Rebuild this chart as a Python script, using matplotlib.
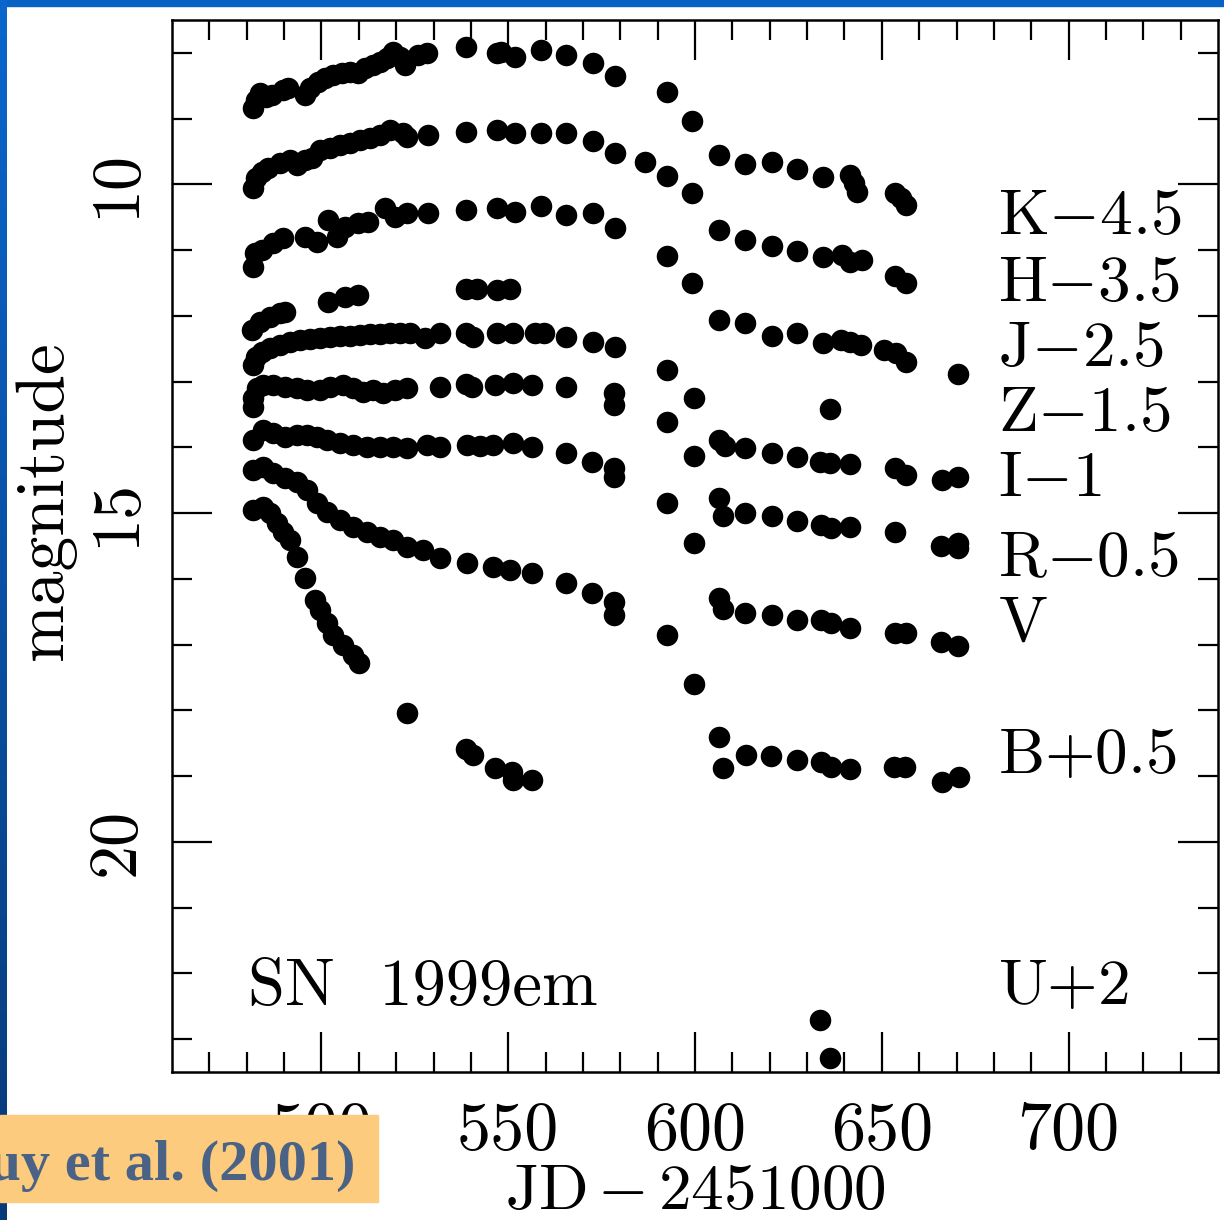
import numpy as np
import matplotlib
matplotlib.use("Agg")
import matplotlib.pyplot as plt
from matplotlib.patches import Rectangle

plt.rcParams["font.family"] = "serif"
plt.rcParams["font.serif"] = ["cmr10", "DejaVu Serif"]
plt.rcParams["mathtext.fontset"] = "cm"
plt.rcParams["axes.unicode_minus"] = False

# light curves of SN 1999em (JD-2451000, shifted magnitudes)
k_jd = [481.7, 482.5, 483.5, 485.1, 486.7, 489.7, 491.0, 495.6, 496.9, 499.0, 500.9, 503.0,
        505.5, 507.6, 509.7, 511.6, 513.7, 515.6, 517.5, 519.1, 521.0, 522.3, 525.8, 528.2,
        538.6, 546.9, 548.2, 551.7, 558.7, 565.6, 572.6, 578.7, 592.6, 599.3, 606.5, 613.5,
        620.7, 627.4, 634.3, 641.6, 642.6, 643.4, 653.6, 655.2, 656.5]
k_mag = [8.84, 8.72, 8.61, 8.67, 8.64, 8.56, 8.53, 8.64, 8.53, 8.44, 8.38, 8.34,
         8.31, 8.29, 8.31, 8.23, 8.18, 8.14, 8.08, 7.99, 8.06, 8.18, 8.03, 8.00,
         7.91, 8.00, 7.99, 8.06, 7.96, 8.03, 8.15, 8.35, 8.60, 9.04, 9.55, 9.69,
         9.66, 9.77, 9.89, 9.86, 9.98, 10.12, 10.13, 10.21, 10.31]

h_jd = [481.7, 482.5, 484.1, 485.7, 488.9, 491.6, 493.4, 495.6, 497.4, 499.6, 502.2, 504.9,
        507.6, 510.3, 512.9, 515.6, 518.3, 521.8, 522.8, 528.4, 538.6, 546.9, 551.7, 558.7,
        565.6, 572.6, 578.7, 586.5, 592.6, 599.3, 606.5, 613.5, 620.7, 627.4, 634.3, 639.4,
        641.6, 644.8, 653.6, 656.5]
h_mag = [10.06, 9.90, 9.81, 9.75, 9.68, 9.63, 9.71, 9.63, 9.60, 9.48, 9.45, 9.40,
         9.37, 9.33, 9.30, 9.25, 9.17, 9.22, 9.28, 9.25, 9.20, 9.17, 9.22, 9.22,
         9.22, 9.34, 9.52, 9.66, 9.87, 10.13, 10.69, 10.85, 10.94, 11.01, 11.11, 11.08,
         11.18, 11.15, 11.39, 11.50]

j_jd = [481.7, 482.2, 484.1, 487.0, 489.7, 495.6, 498.8, 501.7, 504.1, 506.3, 509.7, 512.4,
        517.0, 519.6, 522.8, 528.4, 538.6, 546.9, 551.7, 558.7, 565.6, 572.6, 578.7, 592.6,
        599.3, 606.5, 613.5, 620.7, 627.4, 634.3, 639.1, 641.6, 644.5, 650.6, 653.9, 656.5,
        670.4]
j_mag = [11.26, 11.04, 11.00, 10.89, 10.82, 10.80, 10.88, 10.54, 10.80, 10.65, 10.59, 10.57,
         10.36, 10.50, 10.44, 10.44, 10.39, 10.36, 10.42, 10.33, 10.47, 10.44, 10.66, 11.09,
         11.50, 12.06, 12.11, 12.31, 12.26, 12.41, 12.37, 12.40, 12.44, 12.52, 12.57, 12.70,
         12.89]

z_jd = [481.4, 483.5, 486.2, 488.9, 490.2, 501.7, 506.3, 509.7, 538.6, 541.6, 546.9, 550.4,
        636.2]
z_mag = [12.22, 12.09, 12.02, 11.96, 11.94, 11.79, 11.71, 11.68, 11.59, 11.59, 11.61, 11.59,
         13.42]

i_jd = [481.7, 482.5, 484.1, 486.2, 488.9, 491.6, 494.2, 496.9, 499.6, 502.2, 504.9, 507.6,
        510.3, 512.9, 515.6, 518.3, 521.0, 523.6, 527.6, 531.7, 538.6, 540.5, 546.9, 551.2,
        557.1, 559.7, 565.6, 572.6, 578.7, 592.6, 599.6, 606.5, 607.9, 613.5, 620.7, 627.4,
        633.5, 636.2, 641.6, 653.6, 656.5, 666.1, 670.4]
i_mag = [12.75, 12.63, 12.55, 12.49, 12.44, 12.40, 12.37, 12.35, 12.34, 12.32, 12.31, 12.31,
         12.29, 12.28, 12.28, 12.26, 12.26, 12.26, 12.34, 12.26, 12.26, 12.32, 12.26, 12.26,
         12.26, 12.26, 12.32, 12.40, 12.47, 12.82, 13.25, 13.89, 13.98, 14.01, 14.09, 14.15,
         14.22, 14.24, 14.25, 14.32, 14.42, 14.50, 14.45]

r_jd = [481.7, 481.7, 482.7, 484.3, 487.0, 490.2, 493.4, 496.1, 499.6, 502.2, 505.7, 508.4,
        511.1, 513.7, 516.4, 519.6, 522.8, 531.7, 538.6, 540.2, 546.4, 551.2, 556.5, 565.6,
        578.4, 578.4, 592.6, 599.6, 606.5, 607.6, 613.5, 620.7, 627.4, 633.8, 636.5, 641.6,
        653.6, 665.9, 670.4, 670.4]
r_mag = [13.25, 13.39, 13.10, 13.05, 13.05, 13.08, 13.10, 13.13, 13.13, 13.08, 13.05, 13.10,
         13.16, 13.13, 13.17, 13.13, 13.10, 13.08, 13.04, 13.08, 13.05, 13.02, 13.05, 13.08,
         13.17, 13.36, 13.62, 14.13, 14.77, 15.05, 15.00, 15.05, 15.12, 15.18, 15.23, 15.21,
         15.29, 15.50, 15.46, 15.53]

v_jd = [481.7, 484.3, 487.0, 490.2, 493.4, 496.1, 498.8, 501.4, 504.9, 508.4, 512.1, 515.6,
        519.1, 522.8, 528.2, 531.7, 538.9, 542.4, 545.8, 551.2, 556.5, 565.6, 572.3, 578.4,
        578.4, 592.6, 599.6, 606.5, 607.6, 613.5, 620.7, 627.4, 633.8, 636.5, 641.6, 653.6,
        656.5, 665.9, 670.4]
v_mag = [13.89, 13.74, 13.78, 13.84, 13.81, 13.81, 13.84, 13.89, 13.94, 13.97, 14.00, 14.00,
         14.00, 14.01, 13.97, 14.00, 13.97, 13.98, 13.97, 13.94, 14.00, 14.09, 14.22, 14.32,
         14.45, 14.85, 15.46, 16.29, 16.46, 16.52, 16.55, 16.63, 16.63, 16.67, 16.75, 16.83,
         16.83, 16.96, 17.02]

b_jd = [481.7, 484.3, 487.0, 490.2, 493.4, 496.1, 498.8, 501.4, 504.9, 508.4, 512.1, 515.6,
        519.1, 522.8, 527.1, 531.7, 538.9, 545.8, 550.4, 556.5, 565.6, 572.3, 578.4, 578.4,
        592.6, 599.6, 606.5, 607.6, 613.7, 620.4, 627.4, 633.8, 636.5, 641.6, 653.3, 656.3,
        666.1, 670.7]
b_mag = [14.35, 14.30, 14.39, 14.47, 14.53, 14.65, 14.85, 14.99, 15.11, 15.21, 15.29, 15.37,
         15.41, 15.52, 15.56, 15.69, 15.76, 15.82, 15.87, 15.91, 16.07, 16.22, 16.35, 16.55,
         16.86, 17.60, 18.41, 18.88, 18.68, 18.70, 18.76, 18.79, 18.86, 18.89, 18.86, 18.86,
         19.09, 19.02]

u_jd = [481.7, 484.3, 486.2, 488.1, 489.7, 491.6, 493.4, 495.6, 498.2, 499.6, 501.4, 503.0,
        505.7, 508.4, 510.0, 522.8, 538.6, 540.7, 546.4, 550.9, 551.4, 556.5, 633.5, 636.2]
u_mag = [14.95, 14.91, 15.00, 15.15, 15.29, 15.41, 15.67, 15.99, 16.32, 16.48, 16.67, 16.86,
         17.01, 17.16, 17.28, 18.04, 18.58, 18.68, 18.88, 18.94, 19.06, 19.06, 22.71, 23.29]

band_labels = [r"$\mathrm{K{-}4.5}$", r"$\mathrm{H{-}3.5}$", r"$\mathrm{J{-}2.5}$",
               r"$\mathrm{Z{-}1.5}$", r"$\mathrm{I{-}1}$", r"$\mathrm{R{-}0.5}$",
               r"$\mathrm{V}$", r"$\mathrm{B{+}0.5}$", r"$\mathrm{U{+}2}$"]
label_mag = [10.51, 11.53, 12.52, 13.51, 14.50, 15.72, 16.70, 18.71, 22.23]

fig = plt.figure(figsize=(12.24, 12.20), dpi=100)
ax = fig.add_axes([172 / 1224, 1 - 1072 / 1220, (1218 - 172) / 1224, (1072 - 20) / 1220])

for jd, mag in [(k_jd, k_mag), (h_jd, h_mag), (j_jd, j_mag), (z_jd, z_mag), (i_jd, i_mag),
                (r_jd, r_mag), (v_jd, v_mag), (b_jd, b_mag), (u_jd, u_mag)]:
    ax.plot(jd, mag, "o", color="black", ms=15.5, mec="none")

ax.set_xlim(460, 740)
ax.set_ylim(23.5, 7.5)
ax.set_xticks([500, 550, 600, 650, 700])
ax.set_xticks(np.arange(470, 740, 10), minor=True)
ax.set_yticks([10, 15, 20])
ax.set_yticks(np.arange(8, 24, 1), minor=True)
ax.tick_params(which="both", direction="in", top=True, right=True, width=1.6, colors="black")
ax.tick_params(which="major", length=29)
ax.tick_params(which="minor", length=14.5)
ax.tick_params(axis="x", labelsize=49, pad=21)
ax.tick_params(axis="y", labelsize=49, pad=18, labelrotation=90)
for lab in ax.get_yticklabels():
    lab.set_va("center")
for s in ax.spines.values():
    s.set_linewidth(1.8)

for lab, m in zip(band_labels, label_mag):
    ax.text(681, m, lab, fontsize=47, ha="left", va="center")
ax.text(480.3, 22.23, "SN  1999em", fontsize=48, ha="left", va="center")

fig.text(45 / 1224, 1 - 500 / 1220, "magnitude", rotation=90, fontsize=50,
         ha="center", va="center")
fig.text(695 / 1224, 1 - 1193 / 1220, r"$\mathrm{JD}\,{-}\,2451000$", fontsize=47,
         ha="center", va="center")

# slide frame
fig.add_artist(Rectangle((0, 1 - 6 / 1220), 1, 6 / 1220, transform=fig.transFigure,
                         color="#0862C6", zorder=5))
strip = fig.add_axes([0, 0, 7 / 1224, 1], zorder=5)
strip.imshow(np.linspace(0, 1, 100).reshape(-1, 1), aspect="auto",
             cmap=matplotlib.colors.LinearSegmentedColormap.from_list("s", ["#0A66CC", "#073A78"]))
strip.set_axis_off()

fig.add_artist(Rectangle((0, 1 - 1202 / 1220), 378 / 1224, 87 / 1220, transform=fig.transFigure,
                         color="#FCCB7D", zorder=6))
fig.text(355 / 1224, 1 - 1180 / 1220, "Hamuy et al. (2001)", fontsize=42, fontweight="bold",
         family="Liberation Serif", color="#4A6285", ha="right", va="baseline", zorder=7)

fig.savefig("out.png", dpi=100)
